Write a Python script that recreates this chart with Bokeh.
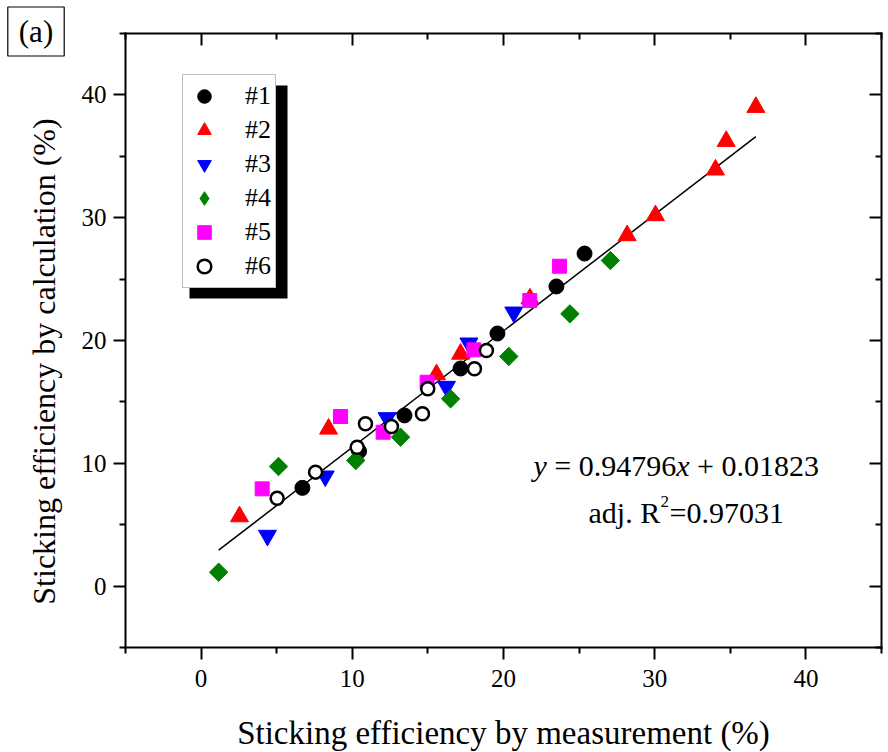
import math
from bokeh.plotting import figure
from bokeh.models import (FixedTicker, LinearAxis, Range1d, Legend, LegendItem,
                          Label, BoxAnnotation)
from bokeh.embed import file_html
from bokeh.resources import INLINE

# ---- data ----
s1_x = [6.7, 10.45, 13.45, 17.16, 19.6, 23.5, 25.36]
s1_y = [8.0, 10.98, 13.9, 17.72, 20.57, 24.4, 27.08]
s2_x = [2.54, 8.43, 15.57, 17.16, 21.75, 28.18, 30.05, 34.02, 34.73, 36.69]
s2_y = [5.66, 12.8, 17.23, 18.9, 23.4, 28.55, 30.18, 33.9, 36.23, 39.0]
s3_x = [4.39, 8.21, 12.3, 16.23, 17.71, 20.68]
s3_y = [4.12, 8.95, 13.7, 16.25, 19.78, 22.3]
s4_x = [1.16, 5.12, 10.23, 13.19, 16.5, 20.35, 24.39, 27.07]
s4_y = [1.13, 9.74, 10.23, 12.13, 15.25, 18.7, 22.17, 26.51]
s5_x = [4.04, 9.22, 12.04, 14.95, 18.04, 21.74, 23.7]
s5_y = [7.92, 13.81, 12.53, 16.6, 19.24, 23.26, 26.05]
s6_x = [5.03, 7.57, 10.32, 10.87, 12.59, 14.64, 14.99, 18.08, 18.87]
s6_y = [7.16, 9.28, 11.31, 13.22, 13.0, 14.03, 16.07, 17.7, 19.19]

series_names = ["#1", "#2", "#3", "#4", "#5", "#6"]
fit_slope = 0.94796
fit_intercept = 1.823  # percent (0.01823 as fraction)
major_ticks = [0, 10, 20, 30, 40]
minor_ticks = [-5, 5, 15, 25, 35, 45]
axis_bounds = (-5, 45)

FONT = "Liberation Serif"
NB = "\u00a0"

# ---- layout: the plot frame covers the whole canvas, the axes box sits inside it ----
W, H = 888, 752
FL, FR, FT, FB = 125, 881, 33, 647          # pixel box of the axes
lo, hi = axis_bounds
kx = (FR - FL) / (hi - lo)
ky = (FB - FT) / (hi - lo)
x_rng = Range1d(lo - FL / kx, hi + (W - FR) / kx)
y_rng = Range1d(lo - (H - FB) / ky, hi + FT / ky)


def dx(px):
    return lo + (px - FL) / kx


def dy(py):
    return hi - (py - FT) / ky


p = figure(width=W, height=H, x_range=x_rng, y_range=y_rng, title=None,
           output_backend="svg", toolbar_location=None,
           min_border_left=0, min_border_right=0, min_border_top=0, min_border_bottom=0)
p.xgrid.visible = False
p.ygrid.visible = False
p.outline_line_color = None
p.background_fill_color = "white"
p.border_fill_color = "white"


def style_axis(ax, loc):
    ax.fixed_location = loc
    ax.bounds = axis_bounds
    ax.ticker = FixedTicker(ticks=major_ticks, minor_ticks=minor_ticks)
    ax.axis_line_width = 2
    ax.axis_line_color = "black"
    ax.axis_line_cap = "square"
    ax.major_tick_line_width = 2
    ax.minor_tick_line_width = 2
    ax.major_tick_in, ax.major_tick_out = 0, 12
    ax.minor_tick_in, ax.minor_tick_out = 0, 6
    ax.major_label_text_font = FONT
    ax.major_label_text_color = "black"
    ax.major_label_text_font_size = "25px"
    ax.major_label_standoff = 7
    ax.axis_label_text_font = FONT
    ax.axis_label_text_font_size = "33px"
    ax.axis_label_text_font_style = "normal"
    ax.axis_label_text_color = "black"


def mirror_axis(loc, tick_positions, length, show_line):
    # label-free mirror axis: ticks drawn as "minor" ticks pointing inward
    ax = LinearAxis(ticker=FixedTicker(ticks=[], minor_ticks=tick_positions))
    ax.fixed_location = loc
    ax.bounds = axis_bounds
    ax.minor_tick_in, ax.minor_tick_out = length, 0
    ax.minor_tick_line_width = 2
    ax.major_tick_in, ax.major_tick_out = 0, 0
    ax.axis_line_width = 2
    ax.axis_line_cap = "square"
    ax.axis_line_color = "black" if show_line else None
    ax.major_label_standoff = 0
    return ax


style_axis(p.xaxis[0], lo)
style_axis(p.yaxis[0], lo)
p.xaxis[0].major_label_standoff = 10
p.xaxis[0].axis_label = "Sticking efficiency by measurement (%)"
p.xaxis[0].axis_label_standoff = 25

p.add_layout(mirror_axis(hi, major_ticks, 12, True), "above")
p.add_layout(mirror_axis(hi, minor_ticks, 6, False), "above")
p.add_layout(mirror_axis(hi, major_ticks, 12, True), "right")
p.add_layout(mirror_axis(hi, minor_ticks, 6, False), "right")

# y axis title (placed as a rotated label to match the reference position)
p.add_layout(Label(x=dx(43), y=dy(361), angle=math.pi / 2, text="Sticking efficiency by calculation (%)",
                   text_font=FONT, text_font_size="32px", text_align="center", text_baseline="middle",
                   text_color="black"))

# fit line
all_x = s1_x + s2_x + s3_x + s4_x + s5_x + s6_x
fx = [min(all_x), max(all_x)]
fy = [fit_slope * v + fit_intercept for v in fx]
p.line(fx, fy, line_color="black", line_width=1.5)

# series
r1 = p.scatter(s1_x, s1_y, marker="circle", size=15, fill_color="black", line_color="black")
r2 = p.scatter(s2_x, s2_y, marker="triangle", size=18, fill_color="#ff0000", line_color="#ff0000")
r3 = p.scatter(s3_x, s3_y, marker="inverted_triangle", size=18, fill_color="#0000ff", line_color="#0000ff")
r4 = p.scatter(s4_x, s4_y, marker="square", angle=0.785398, size=13, fill_color="#008000", line_color="#008000")
r5 = p.scatter(s5_x, s5_y, marker="square", size=14, fill_color="#ff00ff", line_color="#ff00ff")
r6 = p.scatter(s6_x, s6_y, marker="circle", size=13, fill_color="white", line_color="black", line_width=2.5)
# legend swatch for #4 (legend swatches ignore marker angle); its single point is NaN, so not drawn
r4_key = p.scatter(x=[float("nan")], y=[float("nan")], marker="diamond", size=13,
                   fill_color="#008000", line_color="#008000")

# legend shadow
shadow = BoxAnnotation(left=dx(189), right=dx(287), top=dy(85), bottom=dy(298),
                       fill_color="black", fill_alpha=1.0, line_color=None)
p.add_layout(shadow)

LEG_ROW, LEG_PAD = 34, 4
leg_h = 6 * LEG_ROW + 2 * LEG_PAD
legend = Legend(items=[LegendItem(label=n, renderers=[r]) for n, r in
                       zip(series_names, [r1, r2, r3, r4_key, r5, r6])],
                location=(182, H - 76 - leg_h), orientation="vertical",
                label_text_font=FONT, label_text_font_size="26px", label_text_color="black",
                glyph_width=LEG_ROW, glyph_height=LEG_ROW, label_height=LEG_ROW, spacing=0,
                padding=LEG_PAD, margin=0, label_standoff=24,
                background_fill_color="white", background_fill_alpha=1.0,
                border_line_color="#808080", border_line_width=1)
p.add_layout(legend, "center")

# equation text
eq_x, eq_y = dx(533), dy(465)
fs = "30px"
pieces1 = [("y", "italic", 0), (NB + "=" + NB + "0.94796", "normal", 13.3), ("x", "italic", 142.7),
           (NB + "+" + NB + "0.01823", "normal", 156)]
for txt, style, off in pieces1:
    p.add_layout(Label(x=eq_x, y=eq_y, x_offset=off, text=txt, text_font=FONT, text_font_size=fs,
                       text_font_style=style, text_baseline="alphabetic", text_align="left",
                       text_color="black"))
r_x, r_y = dx(588), dy(512)
p.add_layout(Label(x=r_x, y=r_y, text="adj." + NB + "R", text_font=FONT, text_font_size=fs,
                   text_baseline="alphabetic", text_align="left", text_color="black"))
p.add_layout(Label(x=r_x, y=r_y, x_offset=72, y_offset=11, text="2", text_font=FONT, text_font_size="17px",
                   text_baseline="alphabetic", text_align="left", text_color="black"))
p.add_layout(Label(x=r_x, y=r_y, x_offset=81, text="=0.97031", text_font=FONT, text_font_size=fs,
                   text_baseline="alphabetic", text_align="left", text_color="black"))

# panel tag
p.add_layout(Label(x=dx(35.5), y=dy(31), text="(a)", text_font=FONT, text_font_size="31px",
                   text_align="center", text_baseline="middle", text_color="black",
                   border_line_color="black", border_line_width=1.2,
                   background_fill_color="white", padding=(11, 7)))

open("out.html", "w").write(file_html(p, INLINE))
